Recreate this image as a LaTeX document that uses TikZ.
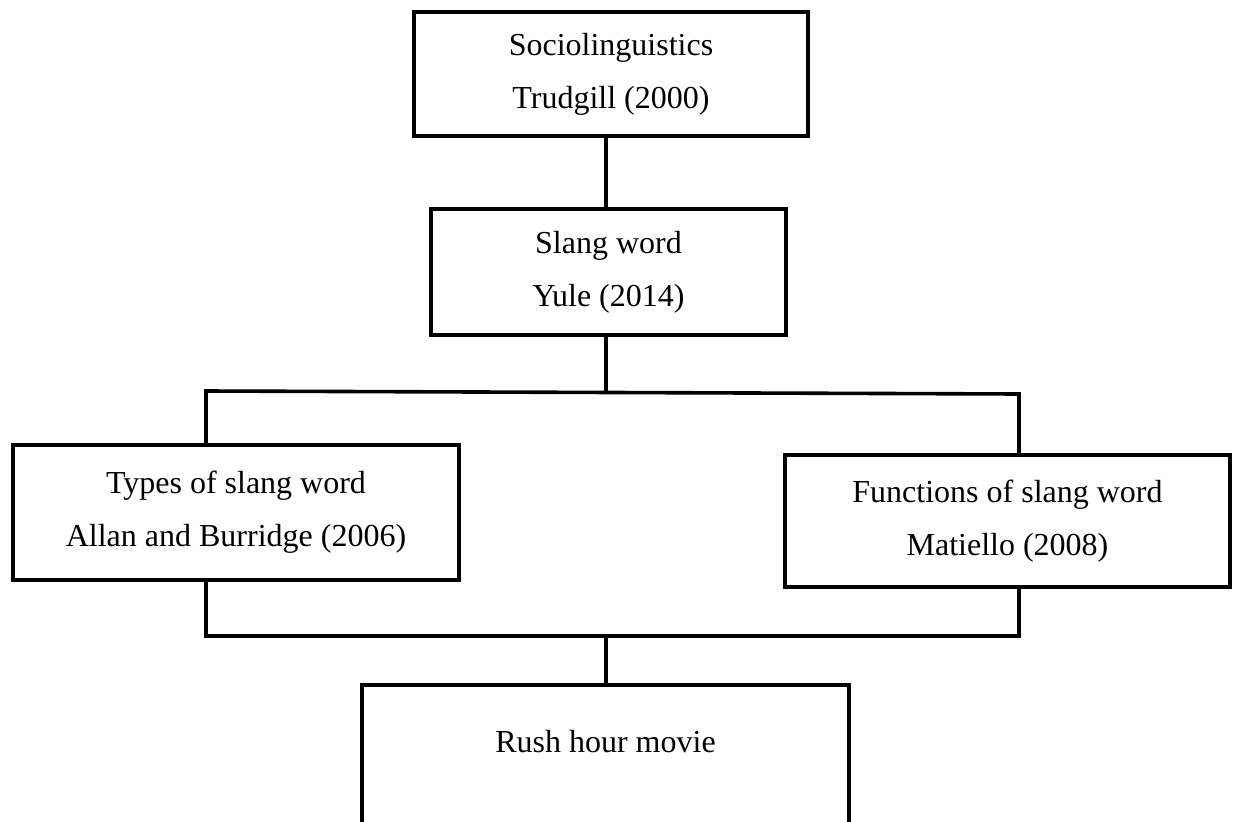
\documentclass[tikz,border=0pt]{standalone}
\usepackage{fontspec}
\setmainfont{Liberation Serif}
\begin{document}
\begin{tikzpicture}[x=1pt,y=-1pt,
  box/.style={draw, line width=3.6pt, rectangle, inner sep=0pt, align=center,
    font=\fontsize{32}{53}\selectfont},
  conn/.style={line width=3.6pt}]
\useasboundingbox (0,0) rectangle (1238,821);
\clip (0,0) rectangle (1238,821);
\node[box, minimum width=394pt, minimum height=124pt] (a) at (611,74) {Sociolinguistics\\Trudgill (2000)};
\node[box, minimum width=355pt, minimum height=126pt] (b) at (608.5,272) {Slang word\\Yule (2014)};
\node[box, minimum width=446pt, minimum height=135pt] (c) at (236,512.5) {Types of slang word\\Allan and Burridge (2006)};
\node[box, minimum width=445pt, minimum height=132pt] (d) at (1007.5,521) {Functions of slang word\\Matiello (2008)};
\node[box, minimum width=487pt, minimum height=200pt, anchor=north] (e) at (605.5,683) {};
\node[font=\fontsize{32}{53}\selectfont, inner sep=0pt] (et) at (605.5,742) {Rush hour movie};
\coordinate (j1) at (606,392);
\coordinate (jl) at (206,391);
\coordinate (jr) at (1019,394);
\coordinate (kl) at (206,636);
\coordinate (kr) at (1019,636);
\coordinate (k1) at (606,636);
\draw[conn] (a.south -| j1) -- (b.north -| j1);
\draw[conn] (b.south -| j1) -- (j1);
\draw[conn] (c.north -| jl) -- (jl) -- (jr) -- (d.north -| jr);
\draw[conn] (c.south -| kl) -- (kl) -- (kr) -- (d.south -| kr);
\draw[conn] (k1) -- (e.north -| k1);
\end{tikzpicture}
\end{document}
